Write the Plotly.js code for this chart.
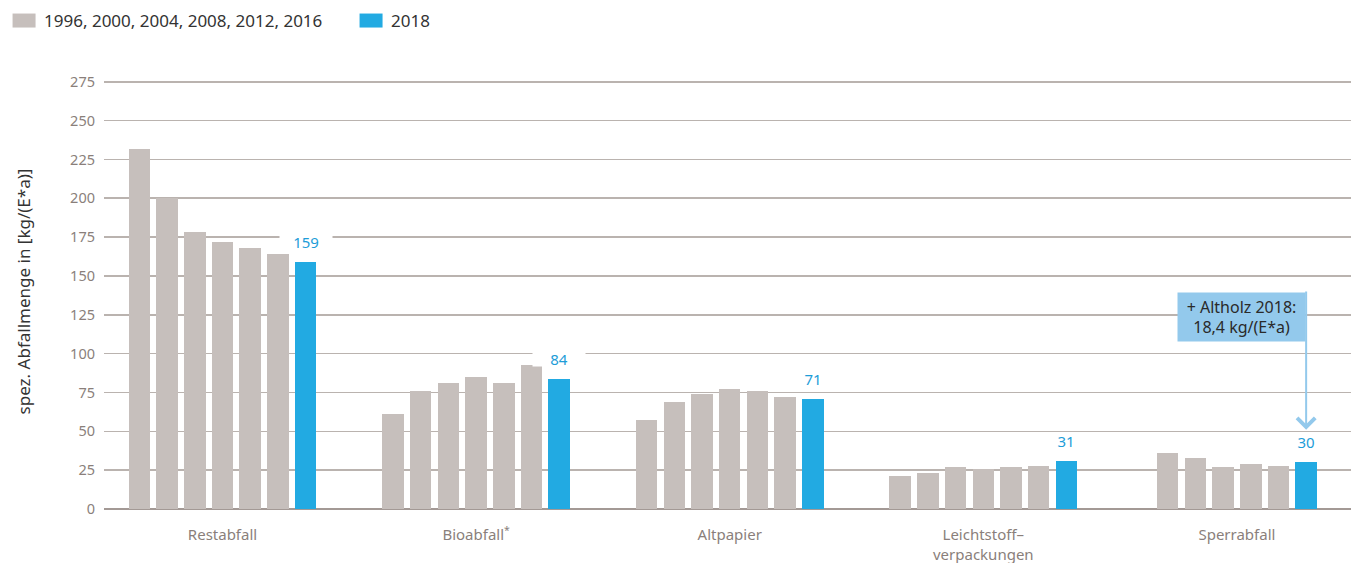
<!DOCTYPE html>
<html><head><meta charset="utf-8">
<script src="https://cdn.plot.ly/plotly-3.0.1.min.js"></script>
<style>html,body{margin:0;padding:0;background:#fff;} #chart{width:1351px;height:563px;}</style>
</head><body><div id="chart"></div>
<script>
// ---- data ----
const categories = ['Restabfall', 'Bioabfall<sup>*</sup>', 'Altpapier', 'Leichtstoff–<br>verpackungen', 'Sperrabfall'];
const greyYears = ['1996', '2000', '2004', '2008', '2012', '2016'];
const greyLegendLabel = '1996, 2000, 2004, 2008, 2012, 2016';
const blueLegendLabel = '2018';
const restabfall = [232, 200, 178, 172, 168, 164];
const bioabfall = [61, 76, 81, 85, 81, 93];
const altpapier = [57, 69, 74, 77, 76, 72];
const leichtstoff = [21, 23, 27, 26, 27, 28];
const sperrabfall = [null, 36, 33, 27, 29, 28];
const values2018 = [159, 84, 71, 31, 30];
const yTicks = [0, 25, 50, 75, 100, 125, 150, 175, 200, 225, 250, 275];
const yTitle = 'spez. Abfallmenge in [kg/(E*a)]';
const noteText = '+ Altholz 2018:<br>18,4 kg/(E*a)';

// ---- layout of bars inside each category group ----
const greyByCat = [restabfall, bioabfall, altpapier, leichtstoff, sperrabfall];
const STEP = 0.1092, BARW = 0.0848;
const gx = [], gy = [], gt = [], bx = [], by = [];
greyByCat.forEach((vals, i) => {
  const present = vals.map((v, j) => ({ v: v, year: greyYears[j] })).filter(d => d.v !== null);
  const n = present.length + 1;
  present.forEach((d, k) => { gx.push(i + (k - (n - 1) / 2) * STEP); gy.push(d.v); gt.push(d.year); });
  bx.push(i + ((n - 1) - (n - 1) / 2) * STEP);
  by.push(values2018[i]);
});

const GREY = '#c6bfbc', BLUE = '#22aae2', LABELBLUE = '#1e9dd8', NOTEBLUE = '#93c9ec';

const traces = [
  { type: 'bar', x: gx, y: gy, text: gt, textposition: 'none', width: BARW, name: greyLegendLabel,
    marker: { color: GREY }, hovertemplate: '%{text}: %{y}<extra></extra>' },
  { type: 'bar', x: bx, y: by, width: BARW, name: blueLegendLabel,
    marker: { color: BLUE }, hovertemplate: '2018: %{y}<extra></extra>' }
];

const annotations = values2018.map((v, i) => ({
  x: bx[i], y: by[i], xref: 'x', yref: 'y', text: String(v), showarrow: false,
  yanchor: 'middle', yshift: 20, font: { size: 15, color: LABELBLUE },
  bgcolor: '#ffffff', width: 52, height: 14, borderpad: 0
}));
// note box with arrow pointing down to the 2018 Sperrabfall bar
annotations.push({
  x: bx[4], y: 51, xref: 'x', yref: 'y', ax: bx[4], ay: 140, axref: 'x', ayref: 'y',
  xanchor: 'right', yanchor: 'top',
  text: noteText, showarrow: true, arrowhead: 4, arrowsize: 1.75, arrowwidth: 2,
  arrowcolor: NOTEBLUE, standoff: 0, startstandoff: 0,
  align: 'center', bgcolor: NOTEBLUE,
  font: { size: 16, color: '#2a2a2a' }, width: 121, height: 42, borderpad: 3
});

const layout = {
  width: 1351, height: 563,
  margin: { l: 104, r: 0, t: 74, b: 54 },
  paper_bgcolor: '#ffffff', plot_bgcolor: '#ffffff',
  font: { family: '"Noto Sans", "Open Sans", sans-serif', color: '#333' },
  showlegend: true,
  legend: { orientation: 'h', xref: 'container', yref: 'container', x: 0.003, y: 0.9947,
    xanchor: 'left', yanchor: 'top', font: { size: 17, color: '#333' }, traceorder: 'normal',
    entrywidth: 302 },
  bargap: 0,
  xaxis: { range: [-0.4673, 4.4499], tickvals: [0, 1, 2, 3, 4], ticktext: categories,
    showgrid: false, zeroline: false, showline: false, ticks: '',
    tickfont: { size: 15, color: '#8a7f7b' }, ticklabelstandoff: 15, fixedrange: true },
  yaxis: { range: [0, 280], tickvals: yTicks, showgrid: true, gridcolor: '#bab3af', gridwidth: 1.6,
    zeroline: true, zerolinecolor: '#a39995', zerolinewidth: 2, showline: false, ticks: '',
    tickfont: { size: 14.5, color: '#8a7f7b' }, ticklabelstandoff: 8, fixedrange: true,
    title: { text: yTitle, font: { size: 17, color: '#333' }, standoff: 35 } },
  annotations: annotations
};

Plotly.newPlot('chart', traces, layout, { displayModeBar: false, staticPlot: true }).then(gd => {
  // widen the legend keys to the reference's rectangular swatches
  gd.querySelectorAll('.legend .legendpoints path').forEach(p => {
    p.setAttribute('d', 'M11.5,7H-11.5V-7H11.5Z');
  });
  // drop empty placeholder title texts
  gd.querySelectorAll('text').forEach(t => {
    if (!t.textContent.trim()) t.remove();
  });
});
</script>
</body></html>
